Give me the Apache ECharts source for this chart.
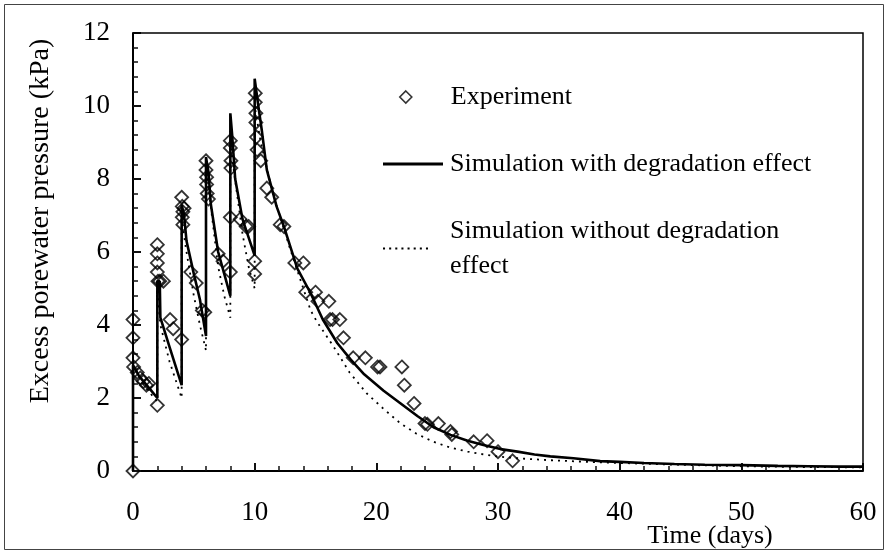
<!DOCTYPE html>
<html>
<head>
<meta charset="utf-8">
<script src="https://cdn.jsdelivr.net/npm/echarts@6/dist/echarts.min.js"></script>
<style>html,body{margin:0;padding:0;background:#fff}#c{width:887px;height:555px}</style>
</head>
<body>
<div id="c"></div>
<script>
// ---- data ----
const xTicks = [0, 10, 20, 30, 40, 50, 60];
const yTicks = [0, 2, 4, 6, 8, 10, 12];

const expDays = [0, 0, 0, 0, 0.05, 0.35, 0.6, 0.85, 1.1, 1.3,
  2, 2, 2, 2, 2, 2.05, 2.2, 2.5, 3.05, 3.3, 4.0,
  4.0, 4.05, 4.1, 4.05, 4.1, 4.2, 4.75, 5.2, 5.7, 5.9,
  6, 6, 6.05, 6.05, 6.1, 6.2, 7.0, 7.4, 8.0,
  8, 8, 8.05, 8.05, 8.0, 8.8, 9.3, 9.5,
  10, 10, 10.05, 10.05, 10.1, 10.1, 10.15, 10.2, 10.5,
  11.0, 11.4, 12.1, 12.4, 13.3, 14.0, 14.2, 15.0, 15.2, 16.1, 16.2, 16.4, 17.0, 17.3,
  18.1, 19.1, 20.1, 20.3, 22.1, 22.3, 23.1, 24.0, 24.2, 25.1, 26.1, 26.2, 28.0, 29.1, 30.0, 31.2];
const expPressure = [0, 4.15, 3.65, 3.1, 2.85, 2.7, 2.55, 2.45, 2.35, 2.4,
  1.8, 6.2, 5.95, 5.7, 5.45, 5.2, 5.2, 5.2, 4.15, 3.9, 3.6,
  7.5, 7.25, 7.1, 6.95, 6.75, 7.2, 5.45, 5.15, 4.4, 4.35,
  8.5, 8.25, 8.05, 7.85, 7.6, 7.45, 5.95, 5.75, 5.45,
  9.05, 8.85, 8.5, 8.3, 6.95, 6.9, 6.7, 6.7,
  5.75, 5.4, 10.35, 10.1, 9.8, 9.55, 9.15, 8.8, 8.5,
  7.75, 7.5, 6.75, 6.7, 5.7, 5.7, 4.9, 4.9, 4.65, 4.65, 4.15, 4.15, 4.15, 3.65,
  3.1, 3.1, 2.85, 2.85, 2.85, 2.35, 1.85, 1.3, 1.28, 1.3, 1.08, 1.0, 0.8, 0.83, 0.53, 0.28];

const withDegDays = [0, 0, 0.5, 1, 1.5, 2, 2, 2.2, 2.25, 3, 4,
  4, 4.2, 4.4, 5, 5.5, 6,
  6, 6.2, 6.4, 7, 7.5, 8,
  8, 8.15, 8.4, 9, 9.5, 10,
  10, 10.3, 10.6, 11, 11.8, 12.4, 13.5, 14.6, 15.6, 16.8, 17.9, 19, 20.6, 22, 23.4, 24.7, 26.1, 27.5, 28.8,
  30.2, 31.6, 33, 34.3, 36.2, 38.4, 40, 42, 44.5, 47, 50, 53, 55.5, 58, 60];
const withDegPressure = [0, 2.9, 2.6, 2.4, 2.2, 2.0, 5.2, 5.2, 4.2, 3.4, 2.35,
  7.3, 7.0, 6.3, 5.4, 4.7, 3.7,
  8.6, 8.2, 7.3, 6.0, 5.4, 4.8,
  9.8, 9.2, 8.0, 6.9, 6.4, 5.9,
  10.75, 10.0, 9.3, 8.25, 7.25, 6.7, 5.55, 4.87, 4.15, 3.5, 3.05, 2.65, 2.2, 1.85, 1.5, 1.2, 0.99, 0.83, 0.71,
  0.6, 0.53, 0.45, 0.4, 0.35, 0.27, 0.25, 0.22, 0.19, 0.17, 0.16, 0.14, 0.13, 0.12, 0.12];

const noDegDays = [0, 0, 1, 2, 2, 2.25, 3, 4,
  4, 4.3, 5, 5.5, 6,
  6, 6.3, 7, 7.5, 8,
  8, 8.3, 9, 9.5, 10,
  10, 10.5, 11, 11.5, 12.9, 14, 14.6, 15.1, 16.5, 17.8, 19.2, 20.6, 22, 23.3, 24.7, 26, 27.5, 28.9,
  30.2, 32, 34, 36, 38, 40, 45, 50, 55, 60];
const noDegPressure = [0, 2.9, 2.3, 1.9, 5.0, 4.0, 3.0, 2.0,
  7.0, 6.2, 4.8, 4.0, 3.3,
  8.3, 7.5, 5.6, 4.8, 4.2,
  9.0, 8.2, 6.5, 5.6, 5.0,
  10.0, 9.0, 8.3, 7.6, 6.1, 5.0, 4.4, 4.1, 3.4, 2.7, 2.13, 1.7, 1.3, 1.02, 0.8, 0.65, 0.53, 0.45,
  0.39, 0.34, 0.3, 0.27, 0.24, 0.22, 0.17, 0.13, 0.11, 0.1];

const names = ['Experiment', 'Simulation with degradation effect', 'Simulation without degradation effect'];

// ---- chart ----
const zip = (a, b) => a.map((v, i) => [v, b[i]]);
const FONT = 'Liberation Serif';
const TICK = '#111111';
const chart = echarts.init(document.getElementById('c'));

const dotIcon = 'path://' + Array.from({length: 8}, (_, i) => `M${i * 6},0h2v2h-2z`).join(' ');

chart.setOption({
  animation: false,
  grid: {left: 133, right: 24, top: 33, bottom: 84, show: false, outerBoundsMode: 'none'},
  xAxis: {
    type: 'value', min: 0, max: 60, interval: 10,
    splitLine: {show: true, lineStyle: {color: 'rgba(0,0,0,0)', width: 0}},
    axisLine: {show: true, lineStyle: {color: '#000', width: 2}},
    axisTick: {show: true, inside: true, length: 8, lineStyle: {color: TICK, width: 2}},
    minorTick: {show: true, splitNumber: 5, length: 5, lineStyle: {color: TICK, width: 1.5}},
    axisLabel: {show: true, margin: 28, fontSize: 27, fontFamily: FONT, color: '#000',
      formatter: v => xTicks.includes(v) ? String(v) : ''},
    name: 'Time (days)', nameLocation: 'middle', nameGap: 52, nameMoveOverlap: false,
    nameTextStyle: {fontSize: 26, fontFamily: FONT, color: '#000', padding: [0, 0, 0, 424]}
  },
  yAxis: {
    type: 'value', min: 0, max: 12, interval: 2,
    splitLine: {show: true, lineStyle: {color: 'rgba(0,0,0,0)', width: 0}},
    axisLine: {show: true, lineStyle: {color: '#000', width: 2}},
    axisTick: {show: true, inside: true, length: 8, lineStyle: {color: TICK, width: 2}},
    minorTick: {show: true, splitNumber: 5, length: 5, lineStyle: {color: TICK, width: 1.5}},
    axisLabel: {show: true, margin: 23, fontSize: 27, fontFamily: FONT, color: '#000',
      formatter: v => yTicks.includes(v) ? String(v) : ''},
    name: 'Excess porewater pressure (kPa)', nameLocation: 'middle', nameGap: 78, nameRotate: 90,
    nameTextStyle: {fontSize: 28, fontFamily: FONT, color: '#000', padding: [0, 0, 0, 62]}
  },
  legend: [
    {data: [{name: names[0], icon: 'diamond', itemStyle: {color: 'rgba(0,0,0,0)', borderColor: '#000', borderWidth: 1.6}}],
      left: 399, top: 84, padding: 0, itemWidth: 12, itemHeight: 12, selectedMode: false,
      textStyle: {fontSize: 26, fontFamily: FONT, color: '#000', padding: [0, 0, 0, 34]}},
    {data: [{name: names[1], icon: 'path://M0,0h60v3h-60z', itemStyle: {color: '#000', borderWidth: 0}}],
      left: 383, top: 151, padding: 0, itemWidth: 60, itemHeight: 12, selectedMode: false,
      textStyle: {fontSize: 26, fontFamily: FONT, color: '#000', padding: [0, 0, 0, 2]}},
    {data: [{name: names[2], icon: dotIcon, itemStyle: {color: '#000', borderWidth: 0}}],
      left: 383, top: 196, padding: 0, itemWidth: 45, itemHeight: 12, selectedMode: false,
      formatter: () => 'Simulation without degradation\neffect',
      textStyle: {fontSize: 26, lineHeight: 35, fontFamily: FONT, color: '#000', padding: [35, 0, 0, 17]}}
  ],
  graphic: [
    {type: 'rect', silent: true, z: -1,
      shape: {x: 4.5, y: 4.5, width: 879, height: 545},
      style: {fill: 'none', stroke: '#444', lineWidth: 1}},
    {type: 'polyline', silent: true, z: 1,
      shape: {points: [[133, 33], [863, 33], [863, 471]]},
      style: {fill: 'none', stroke: '#000', lineWidth: 1.5}}
  ],
  series: [
    {
      name: names[2], type: 'line',
      data: zip(noDegDays, noDegPressure), symbol: 'none', showSymbol: false,
      lineStyle: {color: '#000', width: 1.8, type: [2, 5]}, itemStyle: {color: '#000'}, z: 2
    },
    {
      name: names[1], type: 'line',
      data: zip(withDegDays, withDegPressure), symbol: 'none', showSymbol: false,
      lineStyle: {color: '#000', width: 2.6}, itemStyle: {color: '#000'}, z: 3
    },
    {
      name: names[0], type: 'scatter',
      data: zip(expDays, expPressure), symbol: 'diamond', symbolSize: 13,
      itemStyle: {color: 'rgba(0,0,0,0)', borderColor: '#000', borderWidth: 1.8}, z: 4
    }
  ]
});
</script>
</body>
</html>
